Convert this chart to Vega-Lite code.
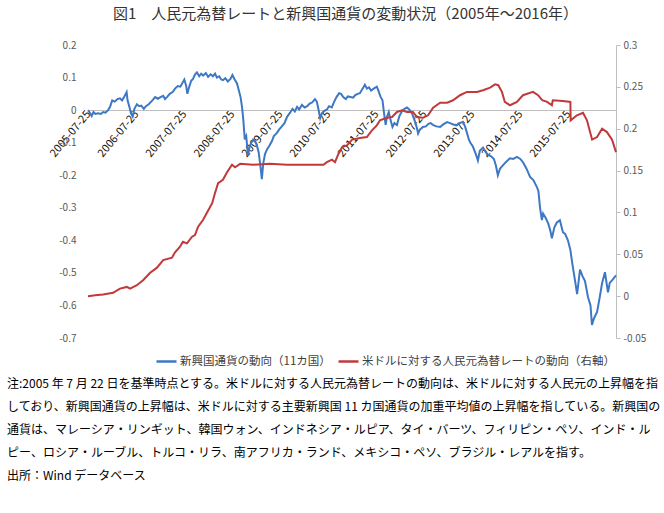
{
  "$schema": "https://vega.github.io/schema/vega-lite/v6.json",
  "width": 528,
  "height": 293,
  "autosize": {"type": "none"},
  "padding": {"left": 88, "top": 45, "right": 48, "bottom": 175},
  "background": "white",
  "config": {
    "view": {"stroke": null},
    "font": "Noto Sans CJK JP",
    "locale": {"number": {"decimal": ".", "thousands": ",", "grouping": [3], "currency": ["$", ""], "minus": "-"}}
  },
  "title": {
    "text": [
      "注:2005 年 7 月 22 日を基準時点とする。米ドルに対する人民元為替レートの動向は、米ドルに対する人民元の上昇幅を指",
      "しており、新興国通貨の上昇幅は、米ドルに対する主要新興国 11 カ国通貨の加重平均値の上昇幅を指している。新興国の",
      "通貨は、マレーシア・リンギット、韓国ウォン、インドネシア・ルピア、タイ・バーツ、フィリピン・ペソ、インド・ル",
      "ピー、ロシア・ルーブル、トルコ・リラ、南アフリカ・ランド、メキシコ・ペソ、ブラジル・レアルを指す。",
      "出所：Wind データベース"
    ],
    "orient": "bottom",
    "anchor": "start",
    "frame": "group",
    "dx": -81,
    "offset": 12,
    "fontSize": 12,
    "fontWeight": "normal",
    "color": "#000000",
    "lineHeight": 23,
    "font": "Noto Sans CJK JP",
    "limit": 0
  },
  "data": {"values": [
    {"d":"2005-07-22","s":"E","v":0},
    {"d":"2005-08-05","s":"E","v":-0.008},
    {"d":"2005-08-19","s":"E","v":-0.018},
    {"d":"2005-09-02","s":"E","v":-0.006},
    {"d":"2005-09-16","s":"E","v":-0.012},
    {"d":"2005-10-07","s":"E","v":-0.01},
    {"d":"2005-10-28","s":"E","v":-0.012},
    {"d":"2005-11-14","s":"E","v":-0.006},
    {"d":"2005-12-02","s":"E","v":-0.008},
    {"d":"2005-12-22","s":"E","v":0},
    {"d":"2006-01-06","s":"E","v":0.01},
    {"d":"2006-01-22","s":"E","v":0.03},
    {"d":"2006-02-10","s":"E","v":0.026},
    {"d":"2006-03-03","s":"E","v":0.034},
    {"d":"2006-03-22","s":"E","v":0.036},
    {"d":"2006-04-07","s":"E","v":0.03},
    {"d":"2006-04-25","s":"E","v":0.042},
    {"d":"2006-05-12","s":"E","v":0.055},
    {"d":"2006-05-19","s":"E","v":0.03},
    {"d":"2006-06-02","s":"E","v":0.01},
    {"d":"2006-06-14","s":"E","v":-0.01},
    {"d":"2006-06-27","s":"E","v":-0.02},
    {"d":"2006-07-10","s":"E","v":0.004},
    {"d":"2006-07-29","s":"E","v":0.018},
    {"d":"2006-08-15","s":"E","v":0.012},
    {"d":"2006-09-01","s":"E","v":0.014},
    {"d":"2006-09-20","s":"E","v":0.004},
    {"d":"2006-10-06","s":"E","v":0.012},
    {"d":"2006-10-27","s":"E","v":0.018},
    {"d":"2006-11-15","s":"E","v":0.026},
    {"d":"2006-11-29","s":"E","v":0.032},
    {"d":"2006-12-15","s":"E","v":0.04},
    {"d":"2007-01-05","s":"E","v":0.035},
    {"d":"2007-01-25","s":"E","v":0.04},
    {"d":"2007-02-14","s":"E","v":0.044},
    {"d":"2007-02-28","s":"E","v":0.034},
    {"d":"2007-03-15","s":"E","v":0.04},
    {"d":"2007-04-05","s":"E","v":0.05},
    {"d":"2007-04-29","s":"E","v":0.056},
    {"d":"2007-05-15","s":"E","v":0.066},
    {"d":"2007-06-05","s":"E","v":0.074},
    {"d":"2007-06-25","s":"E","v":0.072},
    {"d":"2007-07-14","s":"E","v":0.086},
    {"d":"2007-07-25","s":"E","v":0.094},
    {"d":"2007-08-08","s":"E","v":0.075},
    {"d":"2007-08-17","s":"E","v":0.05},
    {"d":"2007-08-30","s":"E","v":0.07},
    {"d":"2007-09-15","s":"E","v":0.09},
    {"d":"2007-09-29","s":"E","v":0.096},
    {"d":"2007-10-15","s":"E","v":0.11},
    {"d":"2007-10-29","s":"E","v":0.116},
    {"d":"2007-11-15","s":"E","v":0.104},
    {"d":"2007-11-30","s":"E","v":0.112},
    {"d":"2007-12-15","s":"E","v":0.106},
    {"d":"2008-01-05","s":"E","v":0.114},
    {"d":"2008-01-22","s":"E","v":0.102},
    {"d":"2008-02-10","s":"E","v":0.11},
    {"d":"2008-02-28","s":"E","v":0.104},
    {"d":"2008-03-15","s":"E","v":0.112},
    {"d":"2008-03-29","s":"E","v":0.1},
    {"d":"2008-04-15","s":"E","v":0.104},
    {"d":"2008-05-01","s":"E","v":0.094},
    {"d":"2008-05-14","s":"E","v":0.092},
    {"d":"2008-06-01","s":"E","v":0.098},
    {"d":"2008-06-20","s":"E","v":0.088},
    {"d":"2008-07-10","s":"E","v":0.096},
    {"d":"2008-07-25","s":"E","v":0.108},
    {"d":"2008-08-10","s":"E","v":0.095},
    {"d":"2008-08-29","s":"E","v":0.082},
    {"d":"2008-09-12","s":"E","v":0.06},
    {"d":"2008-09-25","s":"E","v":0.04},
    {"d":"2008-10-06","s":"E","v":0.01},
    {"d":"2008-10-16","s":"E","v":-0.03},
    {"d":"2008-10-27","s":"E","v":-0.09},
    {"d":"2008-11-07","s":"E","v":-0.08},
    {"d":"2008-11-21","s":"E","v":-0.14},
    {"d":"2008-12-01","s":"E","v":-0.115},
    {"d":"2008-12-15","s":"E","v":-0.1},
    {"d":"2008-12-30","s":"E","v":-0.09},
    {"d":"2009-01-14","s":"E","v":-0.095},
    {"d":"2009-01-28","s":"E","v":-0.11},
    {"d":"2009-02-10","s":"E","v":-0.13},
    {"d":"2009-02-24","s":"E","v":-0.175},
    {"d":"2009-03-06","s":"E","v":-0.212},
    {"d":"2009-03-16","s":"E","v":-0.165},
    {"d":"2009-03-30","s":"E","v":-0.135},
    {"d":"2009-04-15","s":"E","v":-0.12},
    {"d":"2009-05-01","s":"E","v":-0.11},
    {"d":"2009-05-22","s":"E","v":-0.095},
    {"d":"2009-06-05","s":"E","v":-0.08},
    {"d":"2009-06-29","s":"E","v":-0.07},
    {"d":"2009-07-15","s":"E","v":-0.06},
    {"d":"2009-08-05","s":"E","v":-0.05},
    {"d":"2009-08-25","s":"E","v":-0.04},
    {"d":"2009-09-15","s":"E","v":-0.02},
    {"d":"2009-10-07","s":"E","v":-0.008},
    {"d":"2009-10-25","s":"E","v":0.004},
    {"d":"2009-11-12","s":"E","v":-0.004},
    {"d":"2009-11-29","s":"E","v":0.01},
    {"d":"2009-12-15","s":"E","v":0.002},
    {"d":"2010-01-05","s":"E","v":0.016},
    {"d":"2010-01-25","s":"E","v":0.008},
    {"d":"2010-02-14","s":"E","v":0.012},
    {"d":"2010-03-05","s":"E","v":0.02},
    {"d":"2010-03-25","s":"E","v":0.024},
    {"d":"2010-04-14","s":"E","v":0.034},
    {"d":"2010-04-28","s":"E","v":0.026},
    {"d":"2010-05-10","s":"E","v":0.004},
    {"d":"2010-05-24","s":"E","v":-0.025},
    {"d":"2010-06-08","s":"E","v":-0.008},
    {"d":"2010-06-25","s":"E","v":-0.002},
    {"d":"2010-07-14","s":"E","v":0.002},
    {"d":"2010-07-30","s":"E","v":0.012},
    {"d":"2010-08-20","s":"E","v":0.008},
    {"d":"2010-09-05","s":"E","v":0.024},
    {"d":"2010-09-25","s":"E","v":0.04},
    {"d":"2010-10-15","s":"E","v":0.052},
    {"d":"2010-10-30","s":"E","v":0.05},
    {"d":"2010-11-15","s":"E","v":0.04},
    {"d":"2010-12-05","s":"E","v":0.034},
    {"d":"2010-12-20","s":"E","v":0.042},
    {"d":"2011-01-10","s":"E","v":0.04},
    {"d":"2011-01-30","s":"E","v":0.038},
    {"d":"2011-02-15","s":"E","v":0.046},
    {"d":"2011-03-05","s":"E","v":0.05},
    {"d":"2011-03-22","s":"E","v":0.052},
    {"d":"2011-04-10","s":"E","v":0.065},
    {"d":"2011-04-29","s":"E","v":0.078},
    {"d":"2011-05-15","s":"E","v":0.066},
    {"d":"2011-05-30","s":"E","v":0.07},
    {"d":"2011-06-15","s":"E","v":0.06},
    {"d":"2011-07-05","s":"E","v":0.066},
    {"d":"2011-07-29","s":"E","v":0.072},
    {"d":"2011-08-10","s":"E","v":0.06},
    {"d":"2011-08-25","s":"E","v":0.042},
    {"d":"2011-09-10","s":"E","v":0.03},
    {"d":"2011-09-22","s":"E","v":-0.01},
    {"d":"2011-10-04","s":"E","v":-0.045},
    {"d":"2011-10-15","s":"E","v":-0.02},
    {"d":"2011-10-28","s":"E","v":-0.006},
    {"d":"2011-11-10","s":"E","v":-0.03},
    {"d":"2011-11-25","s":"E","v":-0.052},
    {"d":"2011-12-10","s":"E","v":-0.04},
    {"d":"2011-12-29","s":"E","v":-0.046},
    {"d":"2012-01-15","s":"E","v":-0.02},
    {"d":"2012-02-07","s":"E","v":-0.002},
    {"d":"2012-02-25","s":"E","v":0.004},
    {"d":"2012-03-14","s":"E","v":0.008},
    {"d":"2012-04-01","s":"E","v":0.002},
    {"d":"2012-04-22","s":"E","v":-0.01},
    {"d":"2012-05-10","s":"E","v":-0.03},
    {"d":"2012-05-29","s":"E","v":-0.055},
    {"d":"2012-06-07","s":"E","v":-0.072},
    {"d":"2012-06-20","s":"E","v":-0.06},
    {"d":"2012-07-14","s":"E","v":-0.052},
    {"d":"2012-08-05","s":"E","v":-0.05},
    {"d":"2012-08-25","s":"E","v":-0.042},
    {"d":"2012-09-10","s":"E","v":-0.04},
    {"d":"2012-10-01","s":"E","v":-0.046},
    {"d":"2012-10-25","s":"E","v":-0.05},
    {"d":"2012-11-22","s":"E","v":-0.052},
    {"d":"2012-12-15","s":"E","v":-0.044},
    {"d":"2013-01-14","s":"E","v":-0.037},
    {"d":"2013-02-05","s":"E","v":-0.04},
    {"d":"2013-03-01","s":"E","v":-0.044},
    {"d":"2013-03-29","s":"E","v":-0.046},
    {"d":"2013-04-20","s":"E","v":-0.04},
    {"d":"2013-05-14","s":"E","v":-0.036},
    {"d":"2013-05-30","s":"E","v":-0.05},
    {"d":"2013-06-14","s":"E","v":-0.07},
    {"d":"2013-06-28","s":"E","v":-0.09},
    {"d":"2013-07-10","s":"E","v":-0.1},
    {"d":"2013-07-29","s":"E","v":-0.112},
    {"d":"2013-08-20","s":"E","v":-0.135},
    {"d":"2013-09-05","s":"E","v":-0.155},
    {"d":"2013-09-20","s":"E","v":-0.125},
    {"d":"2013-10-14","s":"E","v":-0.115},
    {"d":"2013-11-05","s":"E","v":-0.13},
    {"d":"2013-11-22","s":"E","v":-0.138},
    {"d":"2013-12-15","s":"E","v":-0.142},
    {"d":"2014-01-05","s":"E","v":-0.15},
    {"d":"2014-01-20","s":"E","v":-0.17},
    {"d":"2014-02-04","s":"E","v":-0.2},
    {"d":"2014-02-20","s":"E","v":-0.18},
    {"d":"2014-03-14","s":"E","v":-0.17},
    {"d":"2014-04-05","s":"E","v":-0.16},
    {"d":"2014-05-07","s":"E","v":-0.148},
    {"d":"2014-06-01","s":"E","v":-0.15},
    {"d":"2014-06-29","s":"E","v":-0.144},
    {"d":"2014-07-25","s":"E","v":-0.15},
    {"d":"2014-08-14","s":"E","v":-0.16},
    {"d":"2014-09-10","s":"E","v":-0.18},
    {"d":"2014-10-07","s":"E","v":-0.205},
    {"d":"2014-11-01","s":"E","v":-0.215},
    {"d":"2014-11-29","s":"E","v":-0.237},
    {"d":"2014-12-10","s":"E","v":-0.25},
    {"d":"2014-12-22","s":"E","v":-0.3},
    {"d":"2015-01-05","s":"E","v":-0.338},
    {"d":"2015-01-14","s":"E","v":-0.318},
    {"d":"2015-02-01","s":"E","v":-0.33},
    {"d":"2015-02-22","s":"E","v":-0.348},
    {"d":"2015-03-10","s":"E","v":-0.37},
    {"d":"2015-03-22","s":"E","v":-0.394},
    {"d":"2015-04-10","s":"E","v":-0.36},
    {"d":"2015-04-29","s":"E","v":-0.345},
    {"d":"2015-05-22","s":"E","v":-0.338},
    {"d":"2015-06-14","s":"E","v":-0.375},
    {"d":"2015-07-01","s":"E","v":-0.38},
    {"d":"2015-07-22","s":"E","v":-0.4},
    {"d":"2015-08-10","s":"E","v":-0.43},
    {"d":"2015-08-24","s":"E","v":-0.47},
    {"d":"2015-09-14","s":"E","v":-0.523},
    {"d":"2015-09-30","s":"E","v":-0.565},
    {"d":"2015-10-22","s":"E","v":-0.49},
    {"d":"2015-11-10","s":"E","v":-0.51},
    {"d":"2015-11-29","s":"E","v":-0.525},
    {"d":"2015-12-22","s":"E","v":-0.575},
    {"d":"2016-01-10","s":"E","v":-0.6},
    {"d":"2016-01-21","s":"E","v":-0.66},
    {"d":"2016-02-05","s":"E","v":-0.64},
    {"d":"2016-02-29","s":"E","v":-0.62},
    {"d":"2016-03-20","s":"E","v":-0.575},
    {"d":"2016-04-07","s":"E","v":-0.532},
    {"d":"2016-04-29","s":"E","v":-0.498},
    {"d":"2016-05-22","s":"E","v":-0.56},
    {"d":"2016-06-05","s":"E","v":-0.53},
    {"d":"2016-06-22","s":"E","v":-0.523},
    {"d":"2016-07-22","s":"E","v":-0.508},
    {"d":"2005-07-22","s":"R","v":0},
    {"d":"2005-09-15","s":"R","v":0.001},
    {"d":"2005-11-14","s":"R","v":0.002},
    {"d":"2006-01-29","s":"R","v":0.004},
    {"d":"2006-03-22","s":"R","v":0.009},
    {"d":"2006-05-14","s":"R","v":0.011},
    {"d":"2006-06-07","s":"R","v":0.009},
    {"d":"2006-07-29","s":"R","v":0.013},
    {"d":"2006-09-14","s":"R","v":0.019},
    {"d":"2006-11-07","s":"R","v":0.028},
    {"d":"2006-12-29","s":"R","v":0.034},
    {"d":"2007-02-14","s":"R","v":0.043},
    {"d":"2007-04-22","s":"R","v":0.046},
    {"d":"2007-05-14","s":"R","v":0.052},
    {"d":"2007-06-22","s":"R","v":0.059},
    {"d":"2007-07-14","s":"R","v":0.065},
    {"d":"2007-08-14","s":"R","v":0.063},
    {"d":"2007-09-22","s":"R","v":0.071},
    {"d":"2007-10-14","s":"R","v":0.073},
    {"d":"2007-11-07","s":"R","v":0.083},
    {"d":"2007-12-14","s":"R","v":0.091},
    {"d":"2008-01-14","s":"R","v":0.1},
    {"d":"2008-02-22","s":"R","v":0.111},
    {"d":"2008-03-14","s":"R","v":0.123},
    {"d":"2008-04-07","s":"R","v":0.135},
    {"d":"2008-05-14","s":"R","v":0.139},
    {"d":"2008-06-14","s":"R","v":0.148},
    {"d":"2008-07-22","s":"R","v":0.157},
    {"d":"2008-08-14","s":"R","v":0.154},
    {"d":"2008-09-22","s":"R","v":0.158},
    {"d":"2008-12-29","s":"R","v":0.157},
    {"d":"2009-05-07","s":"R","v":0.158},
    {"d":"2009-09-14","s":"R","v":0.157},
    {"d":"2010-06-18","s":"R","v":0.157},
    {"d":"2010-07-14","s":"R","v":0.16},
    {"d":"2010-08-22","s":"R","v":0.163},
    {"d":"2010-09-14","s":"R","v":0.16},
    {"d":"2010-10-07","s":"R","v":0.169},
    {"d":"2010-11-07","s":"R","v":0.178},
    {"d":"2010-12-14","s":"R","v":0.18},
    {"d":"2011-01-22","s":"R","v":0.187},
    {"d":"2011-03-22","s":"R","v":0.189},
    {"d":"2011-05-14","s":"R","v":0.19},
    {"d":"2011-06-22","s":"R","v":0.198},
    {"d":"2011-07-29","s":"R","v":0.204},
    {"d":"2011-08-22","s":"R","v":0.21},
    {"d":"2011-10-14","s":"R","v":0.213},
    {"d":"2011-11-22","s":"R","v":0.214},
    {"d":"2011-12-29","s":"R","v":0.22},
    {"d":"2012-02-07","s":"R","v":0.222},
    {"d":"2012-03-14","s":"R","v":0.22},
    {"d":"2012-04-29","s":"R","v":0.22},
    {"d":"2012-05-29","s":"R","v":0.214},
    {"d":"2012-07-14","s":"R","v":0.213},
    {"d":"2012-08-22","s":"R","v":0.216},
    {"d":"2012-09-29","s":"R","v":0.225},
    {"d":"2012-11-22","s":"R","v":0.231},
    {"d":"2013-01-14","s":"R","v":0.231},
    {"d":"2013-02-28","s":"R","v":0.234},
    {"d":"2013-04-22","s":"R","v":0.24},
    {"d":"2013-06-14","s":"R","v":0.244},
    {"d":"2013-08-29","s":"R","v":0.244},
    {"d":"2013-10-14","s":"R","v":0.246},
    {"d":"2013-12-07","s":"R","v":0.249},
    {"d":"2014-01-14","s":"R","v":0.253},
    {"d":"2014-02-07","s":"R","v":0.252},
    {"d":"2014-03-07","s":"R","v":0.244},
    {"d":"2014-03-29","s":"R","v":0.232},
    {"d":"2014-05-07","s":"R","v":0.228},
    {"d":"2014-06-29","s":"R","v":0.232},
    {"d":"2014-08-14","s":"R","v":0.24},
    {"d":"2014-10-29","s":"R","v":0.244},
    {"d":"2014-12-07","s":"R","v":0.24},
    {"d":"2015-01-07","s":"R","v":0.234},
    {"d":"2015-02-14","s":"R","v":0.232},
    {"d":"2015-03-22","s":"R","v":0.228},
    {"d":"2015-03-29","s":"R","v":0.234},
    {"d":"2015-06-14","s":"R","v":0.233},
    {"d":"2015-08-10","s":"R","v":0.232},
    {"d":"2015-08-12","s":"R","v":0.21},
    {"d":"2015-09-29","s":"R","v":0.216},
    {"d":"2015-11-14","s":"R","v":0.219},
    {"d":"2015-12-14","s":"R","v":0.21},
    {"d":"2016-01-22","s":"R","v":0.187},
    {"d":"2016-02-29","s":"R","v":0.19},
    {"d":"2016-04-07","s":"R","v":0.2},
    {"d":"2016-05-14","s":"R","v":0.196},
    {"d":"2016-06-22","s":"R","v":0.187},
    {"d":"2016-07-22","s":"R","v":0.172}
  ]},
  "layer": [
    {
      "transform": [{"filter": "datum.s === 'E'"}],
      "mark": {"type": "line", "strokeWidth": 2},
      "encoding": {
        "x": {
          "field": "d", "type": "temporal",
          "scale": {"type": "utc", "domain": [{"year": 2005, "month": 7, "date": 22, "utc": true}, {"year": 2016, "month": 7, "date": 22, "utc": true}]},
          "axis": {
            "orient": "bottom", "offset": -228,
            "values": [
              {"year": 2005, "month": 7, "date": 25, "utc": true},
              {"year": 2006, "month": 7, "date": 25, "utc": true},
              {"year": 2007, "month": 7, "date": 25, "utc": true},
              {"year": 2008, "month": 7, "date": 25, "utc": true},
              {"year": 2009, "month": 7, "date": 25, "utc": true},
              {"year": 2010, "month": 7, "date": 25, "utc": true},
              {"year": 2011, "month": 7, "date": 25, "utc": true},
              {"year": 2012, "month": 7, "date": 25, "utc": true},
              {"year": 2013, "month": 7, "date": 25, "utc": true},
              {"year": 2014, "month": 7, "date": 25, "utc": true},
              {"year": 2015, "month": 7, "date": 25, "utc": true}
            ],
            "format": "%Y-%m-%d",
            "labelAngle": -50, "labelAlign": "right", "labelBaseline": "middle",
            "labelFontSize": 11, "labelColor": "#111111", "labelPadding": 2,
            "labelOverlap": false, "labelFlush": false, "labelFont": "Noto Sans CJK JP",
            "ticks": false, "grid": false, "domainColor": "#BFBFBF", "domainWidth": 1,
            "title": null
          }
        },
        "y": {
          "field": "v", "type": "quantitative",
          "scale": {"domain": [-0.7, 0.2], "nice": false, "zero": false},
          "axis": {
            "orient": "left", "values": [-0.7, -0.6, -0.5, -0.4, -0.3, -0.2, -0.1, 0, 0.1, 0.2],
            "format": ".2~f", "domain": false, "ticks": false, "grid": false,
            "labelPadding": 12, "labelFontSize": 10, "labelColor": "#595959", "title": null
          }
        },
        "color": {
          "field": "s", "type": "nominal",
          "scale": {"domain": ["E", "R"], "range": ["#3E78C4", "#C0393B"]},
          "legend": {
            "orient": "none", "legendX": 67, "legendY": 305, "direction": "horizontal",
            "title": null, "symbolType": "stroke", "symbolSize": 400, "symbolStrokeWidth": 2.5,
            "labelFontSize": 11.5, "labelColor": "#404040", "labelOffset": 2, "columnPadding": 2,
            "labelLimit": 400, "padding": 0,
            "labelExpr": "datum.value == 'E' ? '新興国通貨の動向（11カ国）' : '米ドルに対する人民元為替レートの動向（右軸）'"
          }
        }
      }
    },
    {
      "transform": [{"filter": "datum.s === 'R'"}],
      "mark": {"type": "line", "strokeWidth": 2},
      "encoding": {
        "x": {
          "field": "d", "type": "temporal",
          "scale": {"type": "utc", "domain": [{"year": 2005, "month": 7, "date": 22, "utc": true}, {"year": 2016, "month": 7, "date": 22, "utc": true}]},
          "axis": {
            "orient": "top", "labels": false, "ticks": false, "domain": false, "grid": false,
            "title": "図1　人民元為替レートと新興国通貨の変動状況（2005年～2016年）",
            "titleFontSize": 15, "titleFontWeight": "normal", "titleColor": "#333333",
            "titleFont": "Noto Sans CJK JP",
            "titleX": 257, "titleY": -32, "titleAlign": "center", "titleBaseline": "middle", "titleAngle": 0
          }
        },
        "y": {
          "field": "v", "type": "quantitative",
          "scale": {"domain": [-0.05, 0.3], "nice": false, "zero": false},
          "axis": {
            "orient": "right", "values": [-0.05, 0, 0.05, 0.1, 0.15, 0.2, 0.25, 0.3],
            "format": ".2~f", "domain": true, "domainColor": "#BFBFBF",
            "ticks": true, "tickSize": 4, "tickColor": "#BFBFBF", "grid": false,
            "labelPadding": 3, "labelFontSize": 10, "labelColor": "#595959", "title": null
          }
        },
        "color": {"field": "s", "type": "nominal"}
      }
    }
  ],
  "resolve": {"scale": {"y": "independent"}, "axis": {"x": "independent"}}
}
